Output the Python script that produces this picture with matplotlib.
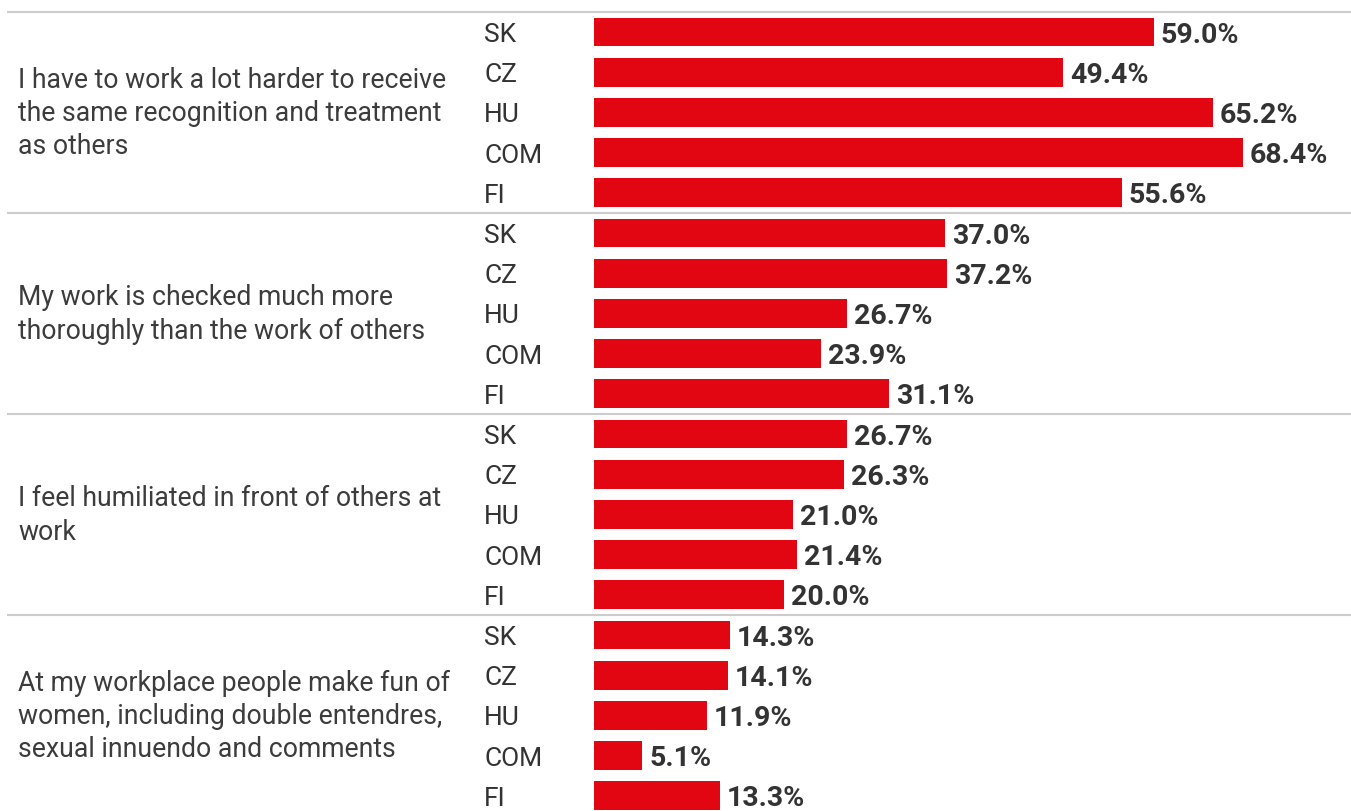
import matplotlib.pyplot as plt
import matplotlib.transforms as mtransforms

plt.rcParams['font.family'] = ['Roboto', 'DejaVu Sans']

# data
questions = [
    "I have to work a lot harder to receive\nthe same recognition and treatment\nas others",
    "My work is checked much more\nthoroughly than the work of others",
    "I feel humiliated in front of others at\nwork",
    "At my workplace people make fun of\nwomen, including double entendres,\nsexual innuendo and comments",
]
countries = ["SK", "CZ", "HU", "COM", "FI"]
vals_q1 = [59.0, 49.4, 65.2, 68.4, 55.6]
vals_q2 = [37.0, 37.2, 26.7, 23.9, 31.1]
vals_q3 = [26.7, 26.3, 21.0, 21.4, 20.0]
vals_q4 = [14.3, 14.1, 11.9, 5.1, 13.3]
all_vals = [vals_q1, vals_q2, vals_q3, vals_q4]

W, H = 1351, 812
fig = plt.figure(figsize=(W / 100, H / 100), dpi=100)
ax = fig.add_axes([0, 0, 1, 1])

# pixel layout -> data limits
px_per_pct = 9.49
x0 = 594
row0 = 33
row_h = 40.2
ax.set_xlim(-x0 / px_per_pct, (W - x0) / px_per_pct)
ax.set_ylim((H - row0) / row_h, -row0 / row_h)
ax.axis('off')

red = '#e20613'
txt = '#333333'
fig_x = mtransforms.blended_transform_factory(fig.transFigure, ax.transData)

n = len(countries)
for g, vals in enumerate(all_vals):
    rows = [g * n + i for i in range(n)]
    ax.barh(rows, vals, height=0.72, color=red, edgecolor='none')
    for r, c, v in zip(rows, countries, vals):
        ax.annotate(c, (484 / W, r), xycoords=fig_x, xytext=(0, -1.5),
                    textcoords='offset points', ha='left', va='center',
                    fontsize=19, color=txt)
        ax.annotate(f"{v:.1f}%", (v, r), xytext=(5, -1.5), textcoords='offset points',
                    ha='left', va='center', fontsize=20.5, fontweight='bold',
                    color=txt)
    ax.text(18 / W, g * n + (n - 1) / 2, questions[g], transform=fig_x,
            ha='left', va='center', fontsize=19.2, color='#3c3c3c', linespacing=1.3)
    ax.plot([7 / W, 1], [g * n - 0.5, g * n - 0.5], transform=fig_x,
            color='#cccccc', lw=1.5, solid_capstyle='butt')

fig.savefig('out.png', dpi=100)
